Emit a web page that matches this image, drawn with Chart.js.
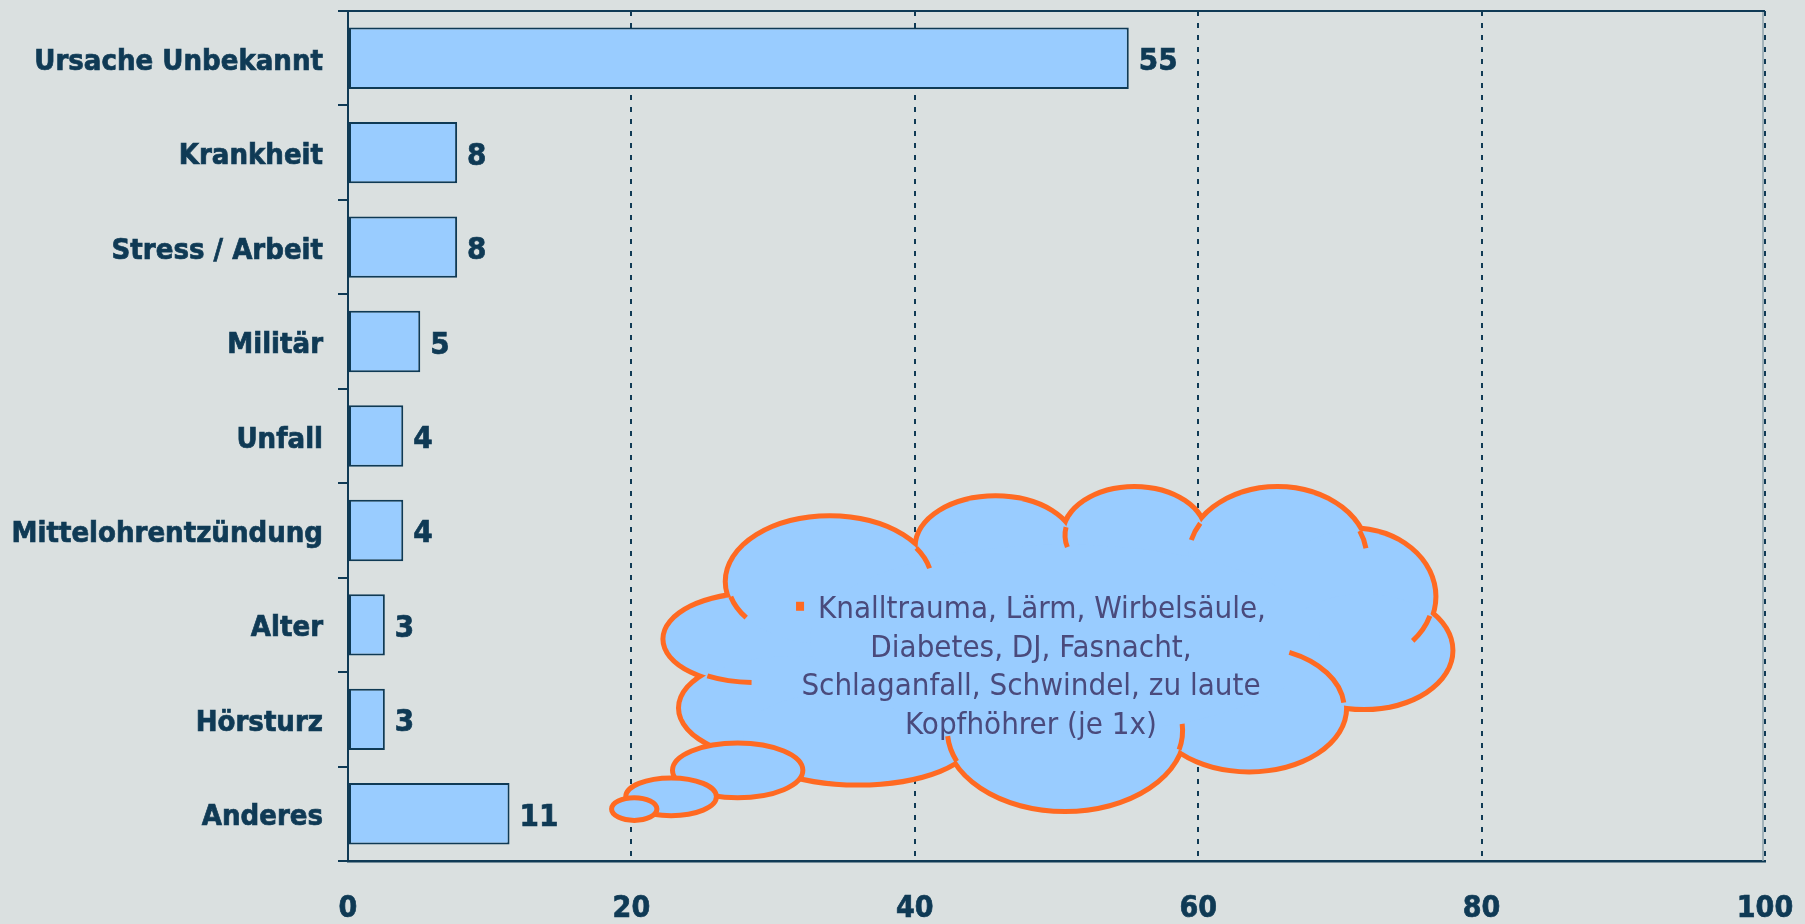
<!DOCTYPE html>
<html>
<head>
<meta charset="utf-8">
<script src="https://cdn.jsdelivr.net/npm/chart.js@4.4.0/dist/chart.umd.min.js"></script>
<style>
    html, body { margin: 0; padding: 0; background: #dae0e0; }
    #wrap { width: 1805px; height: 924px; position: relative; }
</style>
</head>
<body>
<div id="wrap"><canvas id="causeChart"></canvas></div>
<script>
// Ursachen (Anteil in %)
const categories = ['Ursache Unbekannt', 'Krankheit', 'Stress / Arbeit', 'Militär', 'Unfall',
    'Mittelohrentzündung', 'Alter', 'Hörsturz', 'Anderes'];
const shares = [55.1, 7.7, 7.7, 5.1, 3.9, 3.9, 2.6, 2.6, 11.4];
const xTicks = [0, 20, 40, 60, 80, 100];
const noteLines = ['Knalltrauma, Lärm, Wirbelsäule,', 'Diabetes, DJ, Fasnacht,',
    'Schlaganfall, Schwindel, zu laute', 'Kopfhöhrer (je 1x)'];

const NAVY = '#0f3a55';
const BAR = '#99ccff';
const ORANGE = '#ff6a22';
const NOTE_TEXT = '#4a4a7c';
const FONT = '"DejaVu Sans Condensed", "DejaVu Sans", Tahoma, sans-serif';

// cloud shape in axis units: [value, category index, radius value, radius category]
const cloudLobes = [
    [28.7, 6.15, 6.3, 0.46],
    [31.5, 6.88, 8.0, 0.55],
    [34.0, 5.54, 7.2, 0.67],
    [45.7, 5.17, 5.5, 0.51],
    [55.5, 5.05, 4.9, 0.49],
    [65.6, 5.29, 6.3, 0.73],
    [70.9, 5.70, 5.7, 0.70],
    [71.7, 6.27, 6.1, 0.60],
    [63.6, 6.88, 6.7, 0.65],
    [50.6, 7.12, 8.3, 0.83],
    [36.0, 7.18, 8.1, 0.49]
];
const cloudCore = [50.6, 6.15, 18.0, 1.0];
// inner arc pieces: [lobe, start deg, end deg]
const cloudArcs = [
    [2, 145, 166], [2, -32, -12], [4, 165, 190], [5, 195, 210], [5, -23, -8],
    [6, 17, 42], [8, -65, -5], [9, -5, 14], [9, 157, 176], [0, 92, 122]
];
const cloudBubbles = [
    [27.5, 7.54, 4.6, 0.29],
    [22.8, 7.82, 3.2, 0.20],
    [20.2, 7.95, 1.6, 0.12]
];

const framePlugin = {
    id: 'frame',
    afterDraw(chart) {
        const { ctx, chartArea: a } = chart;
        ctx.save();
        ctx.strokeStyle = '#8fa3ad';
        ctx.lineWidth = 1.5;
        ctx.beginPath();
        ctx.moveTo(a.right - 2, a.top);
        ctx.lineTo(a.right - 2, a.bottom);
        ctx.stroke();
        ctx.strokeStyle = NAVY;
        ctx.lineWidth = 2;
        ctx.beginPath();
        ctx.moveTo(a.left, a.top);
        ctx.lineTo(a.right, a.top);
        ctx.stroke();
        ctx.restore();
    }
};

const valueLabels = {
    id: 'valueLabels',
    afterDatasetsDraw(chart) {
        const { ctx } = chart;
        const meta = chart.getDatasetMeta(0);
        ctx.save();
        ctx.font = 'bold 31px ' + FONT;
        ctx.fillStyle = NAVY;
        ctx.strokeStyle = NAVY;
        ctx.lineWidth = 0.7;
        ctx.textBaseline = 'middle';
        meta.data.forEach((bar, i) => {
            const txt = String(Math.round(shares[i]));
            ctx.fillText(txt, bar.x + 10, bar.y + 4);
            ctx.strokeText(txt, bar.x + 10, bar.y + 4);
        });
        ctx.restore();
    }
};

const cloudPlugin = {
    id: 'cloud',
    afterDraw(chart) {
        const { ctx, scales: { x, y } } = chart;
        const kx = x.getPixelForValue(1) - x.getPixelForValue(0);
        const ky = y.getPixelForValue(1) - y.getPixelForValue(0);
        const rad = d => d * Math.PI / 180;
        const ell = (e, a0 = 0, a1 = 360) => {
            ctx.beginPath();
            ctx.ellipse(x.getPixelForValue(e[0]), y.getPixelForValue(e[1]),
                e[2] * kx, e[3] * ky, 0, rad(a0), rad(a1));
        };
        ctx.save();
        ctx.strokeStyle = ORANGE;
        ctx.fillStyle = BAR;
        // outline: wide stroke, then fill covers the inner half
        ctx.lineWidth = 10;
        cloudLobes.forEach(e => { ell(e); ctx.stroke(); });
        cloudLobes.forEach(e => { ell(e); ctx.fill(); });
        ell(cloudCore);
        ctx.fill();
        ctx.lineWidth = 5;
        cloudArcs.forEach(([i, a0, a1]) => { ell(cloudLobes[i], a0, a1); ctx.stroke(); });
        cloudBubbles.forEach(e => { ell(e); ctx.fill(); ctx.stroke(); });

        // note text
        ctx.font = '31px ' + FONT;
        ctx.fillStyle = NOTE_TEXT;
        ctx.textBaseline = 'middle';
        const cx = x.getPixelForValue(48.2);
        noteLines.forEach((line, i) => {
            const ly = y.getPixelForValue(5.84 + i * 0.41);
            const w = ctx.measureText(line).width;
            if (i === 0) {
                const total = w + 22;
                const sx = cx - total / 2;
                ctx.fillStyle = ORANGE;
                ctx.fillRect(sx, ly - 8, 8, 9);
                ctx.fillStyle = NOTE_TEXT;
                ctx.textAlign = 'left';
                ctx.fillText(line, sx + 22, ly);
            } else {
                ctx.textAlign = 'center';
                ctx.fillText(line, cx, ly);
            }
        });
        ctx.restore();
    }
};

new Chart(document.getElementById('causeChart'), {
    type: 'bar',
    data: {
        labels: categories,
        datasets: [{
            data: shares,
            backgroundColor: BAR,
            borderColor: NAVY,
            borderWidth: 2,
            borderSkipped: false,
            barPercentage: 0.65,
            categoryPercentage: 1
        }]
    },
    options: {
        indexAxis: 'y',
        responsive: true,
        maintainAspectRatio: false,
        animation: false,
        layout: { padding: { top: 11, right: 40, left: 0, bottom: 0 } },
        plugins: {
            legend: { display: false },
            tooltip: { enabled: false }
        },
        scales: {
            x: {
                min: 0,
                max: 100,
                afterBuildTicks: scale => { scale.ticks = xTicks.map(v => ({ value: v })); },
                afterFit: scale => {
                    scale.height = 63;
                    scale.paddingLeft = 0;
                    scale.paddingRight = 0;
                },
                ticks: {
                    color: NAVY,
                    padding: 30,
                    textStrokeColor: NAVY,
                    textStrokeWidth: 0.7,
                    font: { family: FONT, size: 30, weight: 'bold' }
                },
                grid: {
                    color: NAVY,
                    lineWidth: 2,
                    drawTicks: false
                },
                border: { color: NAVY, width: 2.5, dash: [5, 7] }
            },
            y: {
                afterFit: scale => {
                    scale.width = 348;
                    scale.paddingTop = 0;
                    scale.paddingBottom = 0;
                },
                ticks: {
                    color: NAVY,
                    padding: 15,
                    labelOffset: 4,
                    textStrokeColor: NAVY,
                    textStrokeWidth: 0.7,
                    font: { family: FONT, size: 29, weight: 'bold' }
                },
                grid: {
                    offset: true,
                    drawOnChartArea: false,
                    tickLength: 10,
                    color: NAVY,
                    lineWidth: 2
                },
                border: { color: NAVY, width: 2 }
            }
        }
    },
    plugins: [framePlugin, valueLabels, cloudPlugin]
});
</script>
</body>
</html>
